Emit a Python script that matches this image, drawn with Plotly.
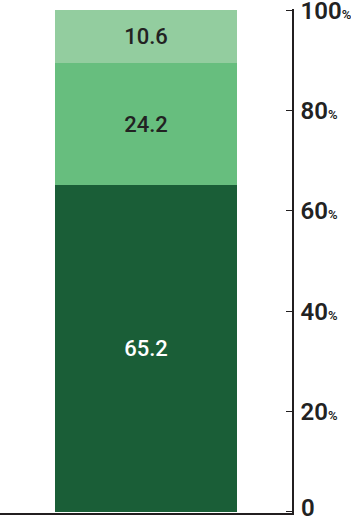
import plotly.graph_objects as go

categories = ["A"]
series_names = ["bottom", "middle", "top"]
series_values = [65.2, 24.2, 10.6]
series_colors = ["#1a5e37", "#67be7e", "#93cd9f"]
text_colors = ["#ffffff", "#222222", "#222222"]
tick_vals = [0, 20, 40, 60, 80, 100]
tick_labels = [""] + [f"{v}<span style='font-size:13px'>%</span>" for v in tick_vals[1:]]
zero_label = "0"

tick_font = dict(family="Roboto", size=24, color="#222222", weight=600)

fig = go.Figure()
for name, val, col, tcol in zip(series_names, series_values, series_colors, text_colors):
    fig.add_trace(go.Bar(
        x=[0], y=[val], name=name, marker=dict(color=col, line=dict(width=0)),
        width=0.623, text=[f"{val:.1f}"], textposition="inside",
        insidetextanchor="middle", textangle=0,
        textfont=dict(family="Roboto", size=22, color=tcol, weight=500),
        hoverinfo="skip",
    ))

fig.add_annotation(
    text=zero_label, xref="paper", yref="y", x=1, y=0,
    xanchor="left", yanchor="middle", xshift=8, yshift=4, showarrow=False,
    borderpad=0, font=tick_font,
)

fig.update_layout(
    barmode="stack", showlegend=False,
    width=351, height=518,
    margin=dict(l=0, r=59, t=9, b=5, autoexpand=False),
    paper_bgcolor="white", plot_bgcolor="white",
    uniformtext=dict(mode=False),
    xaxis=dict(range=[-0.5, 0.5], showticklabels=False, showgrid=False, zeroline=False,
               showline=True, linecolor="#231f20", linewidth=2, ticks="",
               automargin=False),
    yaxis=dict(range=[-0.25, 100.25], side="right", showgrid=False, zeroline=False,
               showline=True, linecolor="#231f20", linewidth=1.5,
               ticks="inside", ticklen=6, tickwidth=1, tickcolor="#231f20",
               tickvals=tick_vals, ticktext=tick_labels, tickfont=tick_font,
               ticklabelstandoff=2, ticklabeloverflow="allow", automargin=False),
)

fig.write_html("out.html")
